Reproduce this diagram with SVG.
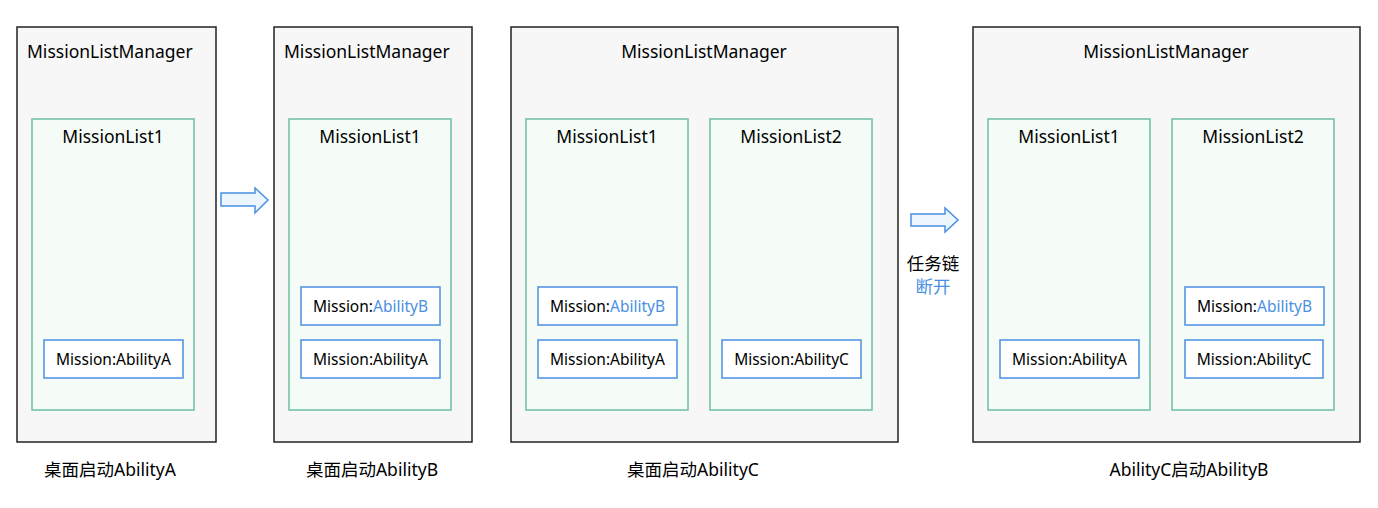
<svg xmlns="http://www.w3.org/2000/svg" width="1378" height="508" viewBox="0 0 1378 508">
<style>
text{font-family:"Noto Sans","Noto Sans CJK SC",sans-serif;fill:#000}
.mgr{fill:#f7f7f7;stroke:#222;stroke-width:1.5}
.lst{fill:#f5fcf7;stroke:#6cc0a0;stroke-width:1.5}
.mis{fill:#fff;stroke:#4a90e2;stroke-width:1.5}
.t17{font-size:17.5px}
.t15{font-size:15.5px}
.t16{font-size:17.5px}
.blue{fill:#4a90e2}
.arr{fill:#eef6fd;stroke:#4a90e2;stroke-width:1.5}
</style>
<rect width="1378" height="508" fill="#fff"/>
<g id="panel1">
<rect class="mgr" x="17" y="27" width="199" height="415"/>
<text class="t17" x="27" y="58">MissionListManager</text>
<g id="p1-list1"><rect class="lst" x="32" y="119" width="162" height="291"/>
<text class="t17" x="113" y="143" text-anchor="middle">MissionList1</text></g>
<g id="p1-misA"><rect class="mis" x="44" y="340" width="139" height="38"/>
<text class="t15" x="113.5" y="365" text-anchor="middle">Mission:AbilityA</text></g>
<text class="t16" x="110" y="476" text-anchor="middle">桌面启动AbilityA</text>
</g>
<g id="panel2">
<rect class="mgr" x="274" y="27" width="198" height="415"/>
<text class="t17" x="284" y="58">MissionListManager</text>
<g id="p2-list1"><rect class="lst" x="289" y="119" width="162" height="291"/>
<text class="t17" x="370" y="143" text-anchor="middle">MissionList1</text></g>
<g id="p2-misB"><rect class="mis" x="301" y="287" width="139" height="38"/>
<text class="t15" x="370.5" y="312" text-anchor="middle">Mission:<tspan class="blue">AbilityB</tspan></text></g>
<g id="p2-misA"><rect class="mis" x="301" y="340" width="139" height="38"/>
<text class="t15" x="370.5" y="365" text-anchor="middle">Mission:AbilityA</text></g>
<text class="t16" x="372" y="476" text-anchor="middle">桌面启动AbilityB</text>
</g>
<g id="panel3">
<rect class="mgr" x="511" y="27" width="387" height="415"/>
<text class="t17" x="704" y="58" text-anchor="middle">MissionListManager</text>
<g id="p3-list1"><rect class="lst" x="526" y="119" width="162" height="291"/>
<text class="t17" x="607" y="143" text-anchor="middle">MissionList1</text></g>
<g id="p3-list2"><rect class="lst" x="710" y="119" width="162" height="291"/>
<text class="t17" x="791" y="143" text-anchor="middle">MissionList2</text></g>
<g id="p3-misB"><rect class="mis" x="538" y="287" width="139" height="38"/>
<text class="t15" x="607.5" y="312" text-anchor="middle">Mission:<tspan class="blue">AbilityB</tspan></text></g>
<g id="p3-misA"><rect class="mis" x="538" y="340" width="139" height="38"/>
<text class="t15" x="607.5" y="365" text-anchor="middle">Mission:AbilityA</text></g>
<g id="p3-misC"><rect class="mis" x="722" y="340" width="139" height="38"/>
<text class="t15" x="791.5" y="365" text-anchor="middle">Mission:AbilityC</text></g>
<text class="t16" x="693" y="476" text-anchor="middle">桌面启动AbilityC</text>
</g>
<g id="panel4">
<rect class="mgr" x="973" y="27" width="387" height="415"/>
<text class="t17" x="1166" y="58" text-anchor="middle">MissionListManager</text>
<g id="p4-list1"><rect class="lst" x="988" y="119" width="162" height="291"/>
<text class="t17" x="1069" y="143" text-anchor="middle">MissionList1</text></g>
<g id="p4-list2"><rect class="lst" x="1172" y="119" width="162" height="291"/>
<text class="t17" x="1253" y="143" text-anchor="middle">MissionList2</text></g>
<g id="p4-misA"><rect class="mis" x="1000" y="340" width="139" height="38"/>
<text class="t15" x="1069.5" y="365" text-anchor="middle">Mission:AbilityA</text></g>
<g id="p4-misB"><rect class="mis" x="1185" y="287" width="139" height="38"/>
<text class="t15" x="1254.5" y="312" text-anchor="middle">Mission:<tspan class="blue">AbilityB</tspan></text></g>
<g id="p4-misC"><rect class="mis" x="1185" y="340" width="138" height="38"/>
<text class="t15" x="1254" y="365" text-anchor="middle">Mission:AbilityC</text></g>
<text class="t16" x="1189" y="476" text-anchor="middle">AbilityC启动AbilityB</text>
</g>
<g id="connectors">
<path class="arr" d="M221,193 H255 V188 L268,200 L255,213 V206 H221 Z"/>
<path class="arr" d="M911,214 H945 V208 L958,220 L945,232 V226 H911 Z"/>
<text class="t16" x="933" y="270" text-anchor="middle">任务链</text>
<text class="t16 blue" x="933" y="293" text-anchor="middle">断开</text>
</g>
</svg>
